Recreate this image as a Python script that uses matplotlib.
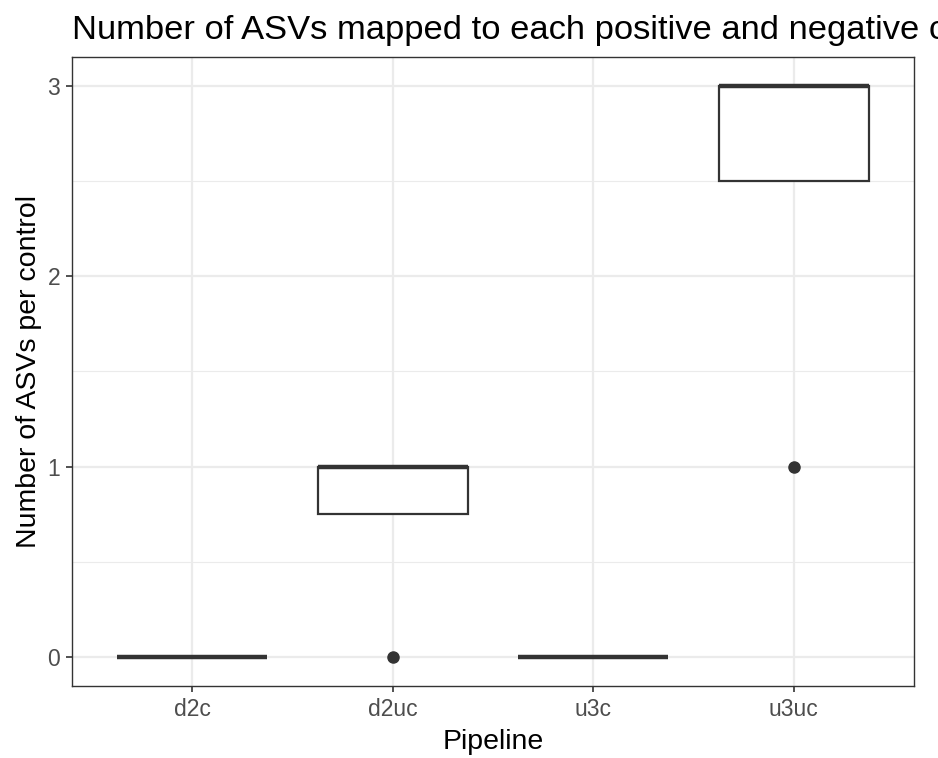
import matplotlib
matplotlib.use("Agg")
import matplotlib.pyplot as plt
import numpy as np

plt.rcParams['font.family'] = ['Liberation Sans', 'DejaVu Sans']

# ASV counts per control for each pipeline
pipelines = ['d2c', 'd2uc', 'u3c', 'u3uc']
d2c = [0, 0, 0, 0]
d2uc = [0, 1, 1, 1]
u3c = [0, 0, 0, 0]
u3uc = [1, 3, 3, 3]
counts = [d2c, d2uc, u3c, u3uc]
y_ticks = [0, 1, 2, 3]

dark = '#333333'
grid_col = '#EBEBEB'

fig = plt.figure(figsize=(9.38, 7.58), dpi=100)
ax = fig.add_axes([0.0768, 0.095, 0.8976, 0.8298])

pos = np.arange(1, len(pipelines) + 1)
ax.boxplot(counts, positions=pos, widths=0.75, whis=1.5, showcaps=False,
           patch_artist=True,
           boxprops=dict(facecolor='white', edgecolor=dark, linewidth=1.6),
           whiskerprops=dict(color=dark, linewidth=1.6),
           medianprops=dict(color=dark, linewidth=3.2, solid_capstyle='butt'),
           flierprops=dict(marker='o', markerfacecolor=dark, markeredgecolor=dark,
                           markersize=8),
           zorder=3)

ax.set_xlim(0.4, len(pipelines) + 0.6)
ax.set_ylim(-0.15, 3.15)
ax.set_xticks(pos)
ax.set_xticklabels(pipelines)
ax.set_yticks(y_ticks)
ax.set_yticks([0.5, 1.5, 2.5], minor=True)

ax.grid(which='major', color=grid_col, linewidth=1.6, zorder=0)
ax.grid(which='minor', axis='y', color=grid_col, linewidth=0.8, zorder=0)
ax.set_axisbelow(True)

for s in ax.spines.values():
    s.set_color(dark)
    s.set_linewidth(1.0)
ax.tick_params(which='major', length=4.5, width=1.2, color=dark,
               labelcolor='#4D4D4D', labelsize=16.5, pad=4)
ax.tick_params(which='minor', length=0)

ax.set_xlabel('Pipeline', fontsize=20.5, labelpad=6)
ax.set_ylabel('Number of ASVs per control', fontsize=20.5, labelpad=4)
# long title runs past the right edge of the figure
ax.set_title('Number of ASVs mapped to each positive and negative control',
             loc='left', fontsize=24.8, pad=13)

fig.savefig('out.png', dpi=100)
